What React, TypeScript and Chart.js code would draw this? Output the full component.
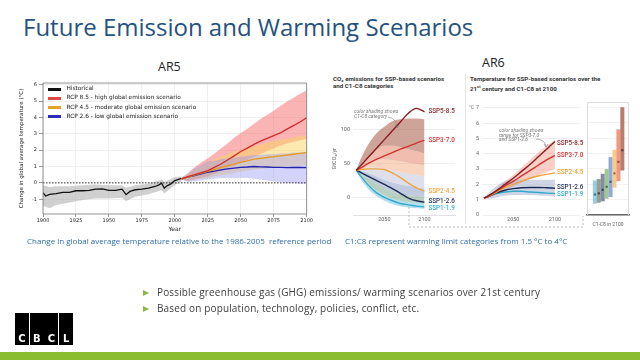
import React, { useEffect, useRef } from "react";
import { Chart, registerables } from "chart.js";
Chart.register(...registerables);

// ---------------- AR5 data ----------------
const AR5_X_TICKS = [1900, 1925, 1950, 1975, 2000, 2025, 2050, 2075, 2100];
const AR5_Y_TICKS = [-1, 0, 1, 2, 3, 4, 5, 6];
const HIST_YEARS = [1900, 1902, 1905, 1910, 1915, 1920, 1925, 1930, 1935, 1940, 1945, 1950, 1955, 1960, 1963, 1966, 1970, 1975, 1980, 1985, 1988, 1990, 1992, 1994, 1997, 2000, 2005];
const HIST_TEMP = [-0.6, -0.8, -0.7, -0.65, -0.58, -0.58, -0.48, -0.48, -0.46, -0.38, -0.36, -0.46, -0.46, -0.38, -0.72, -0.52, -0.42, -0.38, -0.32, -0.22, -0.12, -0.02, -0.32, -0.18, -0.06, 0.14, 0.28];
const HIST_BAND_YEARS = [1900, 1905, 1910, 1920, 1930, 1940, 1950, 1960, 1963, 1970, 1980, 1990, 1992, 2000, 2005];
const HIST_HI = [-0.15, -0.25, -0.2, -0.2, -0.15, -0.1, -0.15, -0.15, -0.3, -0.15, -0.05, 0.2, 0.05, 0.35, 0.4];
const HIST_LO = [-1.4, -1.55, -1.35, -1.2, -1.05, -0.95, -0.95, -0.9, -1.1, -0.85, -0.7, -0.45, -0.65, -0.15, 0.1];
const FUT_YEARS = [2005, 2010, 2015, 2020, 2025, 2030, 2035, 2040, 2045, 2050, 2055, 2060, 2065, 2070, 2075, 2080, 2085, 2090, 2095, 2100];
const RCP85 = [0.25, 0.38, 0.5, 0.62, 0.75, 0.95, 1.15, 1.4, 1.65, 1.92, 2.12, 2.35, 2.55, 2.72, 2.88, 3.05, 3.28, 3.5, 3.72, 3.98];
const RCP85_HI = [0.3, 0.6, 0.95, 1.25, 1.5, 1.8, 2.1, 2.4, 2.75, 3.05, 3.3, 3.6, 3.9, 4.15, 4.4, 4.7, 4.95, 5.2, 5.45, 5.65];
const RCP85_LO = [0.2, 0.1, 0.2, 0.3, 0.4, 0.55, 0.7, 0.9, 1.05, 1.25, 1.4, 1.6, 1.75, 1.95, 2.1, 2.25, 2.4, 2.5, 2.6, 2.7];
const RCP45 = [0.25, 0.35, 0.48, 0.6, 0.7, 0.82, 0.95, 1.05, 1.15, 1.25, 1.35, 1.45, 1.5, 1.55, 1.6, 1.65, 1.7, 1.75, 1.8, 1.85];
const RCP45_HI = [0.3, 0.55, 0.85, 1.05, 1.25, 1.45, 1.6, 1.75, 1.9, 2.0, 2.15, 2.25, 2.35, 2.45, 2.55, 2.65, 2.7, 2.8, 2.85, 2.9];
const RCP45_LO = [0.2, 0.1, 0.2, 0.25, 0.3, 0.4, 0.45, 0.55, 0.6, 0.7, 0.75, 0.8, 0.85, 0.9, 0.95, 1.0, 1.0, 1.05, 1.05, 1.1];
const RCP26 = [0.25, 0.35, 0.45, 0.55, 0.65, 0.72, 0.8, 0.85, 0.9, 0.95, 0.97, 1.0, 0.98, 0.97, 0.95, 0.95, 0.93, 0.94, 0.95, 0.93];
const RCP26_HI = [0.3, 0.55, 0.9, 1.1, 1.3, 1.35, 1.45, 1.5, 1.55, 1.6, 1.65, 1.7, 1.7, 1.75, 1.75, 1.8, 1.8, 1.85, 1.85, 1.9];
const RCP26_LO = [0.2, 0.05, 0.1, 0.15, 0.2, 0.25, 0.3, 0.3, 0.3, 0.3, 0.3, 0.25, 0.2, 0.15, 0.1, 0.05, 0.0, 0.0, -0.05, -0.05];
const ZERO_YEARS = [1900, 2100];
const ZERO_LINE = [0, 0];
const AR5_LEGEND = ["Historical", "RCP 8.5 - high global emission scenario", "RCP 4.5 - moderate global emission scenario", "RCP 2.6 - low global emission scenario"];

// ---------------- AR6 emissions data ----------------
const EM_YEARS = [2015, 2020, 2030, 2040, 2050, 2060, 2070, 2080, 2090, 2100];
const EM_X_TICKS = [2050, 2100];
const EM_Y_TICKS = [0, 50, 100];
const CO2_SSP585 = [40, 46, 59, 72, 85, 98, 111, 124, 131, 126];
const CO2_SSP370 = [40, 43, 50, 56, 61, 66, 71, 75, 80, 84];
const CO2_SSP245 = [40, 41, 42, 42, 41, 36, 29, 21, 14, 9];
const CO2_SSP126 = [40, 37, 31, 25, 19, 13, 6, -1, -5, -7];
const CO2_SSP119 = [40, 32, 18, 7, 0, -5, -9, -11, -13, -14];
const CAT_B0 = [40, 55, 78, 94, 104, 112, 115, 116, 116, 115];
const CAT_B1 = [40, 47, 60, 70, 76, 76, 74, 71, 68, 65];
const CAT_B2 = [40, 44, 50, 55, 56, 55, 53, 51, 49, 47];
const CAT_B3 = [40, 42, 44, 44, 42, 40, 37, 35, 33, 31];
const CAT_B4 = [40, 39, 36, 31, 26, 22, 19, 17, 15, 13];
const CAT_B5 = [40, 36, 28, 20, 13, 8, 5, 3, 2, 1];
const CAT_B6 = [40, 33, 20, 10, 3, -2, -5, -7, -8, -8];
const CAT_B7 = [40, 28, 12, 2, -5, -10, -13, -15, -16, -17];

// ---------------- AR6 temperature data ----------------
const T_YEARS = [2015, 2020, 2030, 2040, 2050, 2060, 2070, 2080, 2090, 2100];
const T_X_TICKS = [2050, 2100];
const T_Y_TICKS = [0, 1, 2, 3, 4, 5, 6, 7];
const T_SSP585 = [1.1, 1.25, 1.6, 2.0, 2.4, 2.85, 3.3, 3.8, 4.3, 4.8];
const T_SSP370 = [1.1, 1.22, 1.55, 1.9, 2.2, 2.55, 2.9, 3.25, 3.6, 3.9];
const T_SSP245 = [1.1, 1.2, 1.5, 1.8, 2.0, 2.2, 2.4, 2.55, 2.65, 2.75];
const T_SSP126 = [1.1, 1.2, 1.45, 1.62, 1.72, 1.78, 1.8, 1.8, 1.78, 1.75];
const T_SSP119 = [1.1, 1.2, 1.4, 1.5, 1.55, 1.55, 1.5, 1.47, 1.43, 1.4];
const T_370_HI = [1.1, 1.3, 1.7, 2.2, 2.6, 3.1, 3.6, 4.1, 4.5, 4.9];
const T_370_LO = [1.1, 1.15, 1.35, 1.6, 1.85, 2.1, 2.35, 2.6, 2.8, 3.0];
const T_126_HI = [1.1, 1.4, 1.9, 2.2, 2.3, 2.3, 2.3, 2.3, 2.3, 2.3];
const T_126_LO = [1.1, 1.05, 1.15, 1.25, 1.3, 1.3, 1.3, 1.28, 1.25, 1.2];

// ---------------- C1-C8 in 2100 ----------------
const C_CATS = ["C1", "C2", "C3", "C4", "C5", "C6", "C7", "C8"];
const C_LO = [0.76, 0.82, 0.91, 1.08, 1.19, 1.8, 2.23, 2.92];
const C_HI = [2.23, 2.32, 2.66, 2.97, 3.75, 4.22, 5.56, 7.0];
const C_MED = [1.34, 1.41, 1.64, 1.84, 2.16, 2.71, 3.46, 4.22];

const SSP_NAMES = ["SSP5-8.5", "SSP3-7.0", "SSP2-4.5", "SSP1-2.6", "SSP1-1.9"];
const SSP_COLORS = ["#8b1c1f", "#cf3530", "#f0a33c", "#1d2c56", "#33a9cc"];
const C_COLORS = ["rgba(140,200,228,0.9)", "rgba(128,146,116,0.85)", "rgba(112,116,160,0.85)", "rgba(150,196,128,0.9)", "rgba(132,162,212,0.9)", "rgba(246,196,130,0.9)", "rgba(240,142,112,0.9)", "rgba(178,110,94,0.9)"];
const C_MED_COLORS = ["#3a6f88", "#3e4a36", "#3a3d66", "#4d6e40", "#3c5580", "#9a6a30", "#9a4a30", "#6b3528"];

// ---------------- helpers ----------------
const xy = (xs: number[], ys: number[]) => xs.map((x, i) => ({ x, y: ys[i] }));
const setTicks = (vals: number[]) => (s: any) => {
  s.ticks = vals.map((v) => ({ value: v }));
};
const fixW = (w: number) => (s: any) => {
  s.width = w;
};
const fixH = (h: number) => (s: any) => {
  s.height = h;
};
const band = (data: any, target: any, color: string, order: number, smooth = false) => ({
  data,
  fill: target === false ? false : target,
  backgroundColor: color,
  borderWidth: 0,
  borderColor: "transparent",
  pointRadius: 0,
  order,
  cubicInterpolationMode: smooth ? "monotone" : "default",
});
const line = (data: any, color: string, width: number, order: number, extra: any = {}) => ({
  data,
  borderColor: color,
  backgroundColor: color,
  borderWidth: width,
  pointRadius: 0,
  fill: false,
  order,
  ...extra,
});

const framePlugin = {
  id: "frame",
  afterDatasetsDraw(chart: any, _a: any, opts: any) {
    if (!opts || !opts.color) return;
    const { left, top, right, bottom } = chart.chartArea;
    const ctx = chart.ctx;
    ctx.save();
    ctx.strokeStyle = opts.color;
    ctx.lineWidth = opts.width || 1;
    const t = top - (opts.topPad || 0);
    ctx.beginPath();
    if (opts.open) {
      ctx.moveTo(left + 0.5, bottom);
      ctx.lineTo(left + 0.5, t + 0.5);
      ctx.lineTo(right - 0.5, t + 0.5);
      ctx.lineTo(right - 0.5, bottom);
    } else {
      ctx.rect(left, t, right - left, bottom - t);
    }
    ctx.stroke();
    ctx.restore();
  },
};

const endLabelPlugin = {
  id: "endLabels",
  afterDatasetsDraw(chart: any, _a: any, opts: any) {
    if (!opts || !opts.font) return;
    const ctx = chart.ctx;
    chart.data.datasets.forEach((ds: any, i: number) => {
      if (!ds.endLabel) return;
      const meta = chart.getDatasetMeta(i);
      const pt = meta.data[meta.data.length - 1];
      ctx.save();
      ctx.font = opts.font;
      ctx.fillStyle = ds.borderColor;
      ctx.textBaseline = "middle";
      ctx.fillText(ds.endLabel, pt.x + opts.dx, pt.y + (ds.labelDy || 0));
      ctx.restore();
    });
  },
};

const baseOpts = {
  responsive: false,
  animation: false as const,
  events: [] as any[],
  elements: { point: { radius: 0 } },
};

// ---------------- chart configs ----------------
function ar5Config() {
  const dj = "'DejaVu Sans', sans-serif";
  const datasets = [
    band(xy(FUT_YEARS, RCP85_HI), 1, "rgba(246,118,118,0.55)", 10),
    band(xy(FUT_YEARS, RCP85_LO), false, "transparent", 10),
    band(xy(FUT_YEARS, RCP45_HI), 3, "rgba(252,214,100,0.5)", 9),
    band(xy(FUT_YEARS, RCP45_LO), false, "transparent", 9),
    band(xy(FUT_YEARS, RCP26_HI), 5, "rgba(150,150,245,0.42)", 8),
    band(xy(FUT_YEARS, RCP26_LO), false, "transparent", 8),
    band(xy(HIST_BAND_YEARS, HIST_HI), 7, "rgba(170,170,170,0.55)", 11),
    band(xy(HIST_BAND_YEARS, HIST_LO), false, "transparent", 11),
    line(xy(ZERO_YEARS, ZERO_LINE), "#222", 0.9, 1, { borderDash: [1.5, 1.5] }),
    line(xy(FUT_YEARS, RCP85), "#d42a2a", 1.3, 0),
    line(xy(FUT_YEARS, RCP45), "#e59a1c", 1.3, 0),
    line(xy(FUT_YEARS, RCP26), "#2222b0", 1.3, 0),
    line(xy(HIST_YEARS, HIST_TEMP), "#111", 1.3, 0),
  ];
  return {
    type: "line",
    data: { datasets },
    options: {
      ...baseOpts,
      layout: { padding: { top: 3, right: 3, left: 0, bottom: 0 } },
      plugins: { legend: { display: false }, tooltip: { enabled: false }, frame: { color: "#7a7a7a", width: 0.8 } },
      scales: {
        x: {
          type: "linear",
          min: 1900,
          max: 2100,
          afterBuildTicks: setTicks(AR5_X_TICKS),
          afterFit: fixH(20),
          ticks: { font: { family: dj, size: 5 }, color: "#222", padding: 1, maxRotation: 0, autoSkip: false, callback: (v: any) => String(v) },
          grid: { color: "#e4e4e4", lineWidth: 0.6, tickLength: 3, tickColor: "#555" },
          border: { display: false },
          title: { display: true, text: "Year", font: { family: dj, size: 6 }, color: "#222", padding: { top: 0, bottom: 1 } },
        },
        y: {
          type: "linear",
          min: -1.9,
          max: 6.1,
          afterBuildTicks: setTicks(AR5_Y_TICKS),
          afterFit: fixW(27),
          ticks: { font: { family: dj, size: 5 }, color: "#222", padding: 2, autoSkip: false, callback: (v: any) => String(v) },
          grid: { color: "#e4e4e4", lineWidth: 0.6, tickLength: 4, tickColor: "#555" },
          border: { display: false },
          title: { display: true, text: "Change in global average temperature (°C)", font: { family: dj, size: 5.5 }, color: "#222", padding: { top: 2, bottom: 0 } },
        },
      },
    },
    plugins: [framePlugin],
  };
}

function emissionConfig() {
  const f = "Roboto, 'Open Sans', sans-serif";
  const s = true;
  const series = [CO2_SSP585, CO2_SSP370, CO2_SSP245, CO2_SSP126, CO2_SSP119];
  const dys = [0, 0, 0, -1, 2];
  const datasets: any[] = [
    band(xy(EM_YEARS, CAT_B0), 1, "rgba(176,108,90,0.62)", 10, s),
    band(xy(EM_YEARS, CAT_B1), 2, "rgba(228,134,110,0.55)", 10, s),
    band(xy(EM_YEARS, CAT_B2), 3, "rgba(244,172,128,0.5)", 10, s),
    band(xy(EM_YEARS, CAT_B3), 4, "rgba(196,196,220,0.55)", 10, s),
    band(xy(EM_YEARS, CAT_B4), 5, "rgba(140,160,198,0.55)", 10, s),
    band(xy(EM_YEARS, CAT_B5), 6, "rgba(128,170,140,0.55)", 10, s),
    band(xy(EM_YEARS, CAT_B6), 7, "rgba(128,204,230,0.6)", 10, s),
    band(xy(EM_YEARS, CAT_B7), false, "transparent", 10, s),
  ];
  series.forEach((vals, i) =>
    datasets.push(line(xy(EM_YEARS, vals), SSP_COLORS[i], 1.4, 0, { cubicInterpolationMode: "monotone", endLabel: SSP_NAMES[i], labelDy: dys[i] }))
  );
  return {
    type: "line",
    data: { datasets },
    options: {
      ...baseOpts,
      layout: { padding: { top: 4, right: 7, left: 0, bottom: 0 } },
      plugins: { legend: { display: false }, tooltip: { enabled: false }, endLabels: { font: `500 6.3px ${f}`, dx: 4 } },
      scales: {
        x: {
          type: "linear",
          min: 2011,
          max: 2138,
          afterBuildTicks: setTicks(EM_X_TICKS),
          afterFit: fixH(14),
          ticks: { font: { family: f, size: 5.5 }, color: "#666", padding: 1, maxRotation: 0, callback: (v: any) => String(v) },
          grid: { display: false, drawTicks: false },
          border: { display: true, color: "#e2e2e2" },
        },
        y: {
          type: "linear",
          min: -26,
          max: 140,
          afterBuildTicks: setTicks(EM_Y_TICKS),
          afterFit: fixW(23),
          ticks: { font: { family: f, size: 5.5 }, color: "#666", padding: 3, callback: (v: any) => String(v) },
          grid: { color: "#e6e6e6", lineWidth: 0.7, drawTicks: false },
          border: { display: false },
          title: { display: true, text: "GtCO₂/yr", font: { family: f, size: 5.5 }, color: "#555", padding: { top: 1, bottom: 0 } },
        },
      },
    },
    plugins: [endLabelPlugin],
  };
}

function tempConfig() {
  const f = "Roboto, 'Open Sans', sans-serif";
  const series = [T_SSP585, T_SSP370, T_SSP245, T_SSP126, T_SSP119];
  const dys = [2, 0, 0, -1, 1];
  const datasets: any[] = [
    band(xy(T_YEARS, T_370_HI), 1, "rgba(242,140,118,0.42)", 10, true),
    band(xy(T_YEARS, T_370_LO), false, "transparent", 10, true),
    band(xy(T_YEARS, T_126_HI), 3, "rgba(160,172,204,0.5)", 9, true),
    band(xy(T_YEARS, T_126_LO), false, "transparent", 9, true),
  ];
  series.forEach((vals, i) =>
    datasets.push(line(xy(T_YEARS, vals), SSP_COLORS[i], 1.4, 0, { cubicInterpolationMode: "monotone", endLabel: SSP_NAMES[i], labelDy: dys[i] }))
  );
  return {
    type: "line",
    data: { datasets },
    options: {
      ...baseOpts,
      layout: { padding: { top: 6, right: 4, left: 0, bottom: 0 } },
      plugins: { legend: { display: false }, tooltip: { enabled: false }, endLabels: { font: `500 6.3px ${f}`, dx: 2 } },
      scales: {
        x: {
          type: "linear",
          min: 2012.6,
          max: 2130,
          afterBuildTicks: setTicks(T_X_TICKS),
          afterFit: fixH(13),
          ticks: { font: { family: f, size: 5.5 }, color: "#666", padding: 1, maxRotation: 0, callback: (v: any) => String(v) },
          grid: { display: false, drawTicks: false },
          border: { display: false },
        },
        y: {
          type: "linear",
          min: 0,
          max: 7.1,
          afterBuildTicks: setTicks(T_Y_TICKS),
          afterFit: fixW(16),
          ticks: { font: { family: f, size: 5.5 }, color: "#666", padding: 3, callback: (v: any) => String(v) },
          grid: { color: "#e8e8e8", lineWidth: 0.7, drawTicks: false },
          border: { display: false },
        },
      },
    },
    plugins: [endLabelPlugin],
  };
}

function catConfig() {
  const f = "Roboto, 'Open Sans', sans-serif";
  const pos = C_CATS.map((_, i) => i + 1);
  return {
    type: "bar",
    data: {
      datasets: [
        {
          type: "line",
          data: xy(pos, C_MED),
          showLine: false,
          pointStyle: "rect",
          pointRadius: 1.5,
          pointBackgroundColor: C_MED_COLORS,
          pointBorderWidth: 0,
          order: 0,
        },
        {
          type: "bar",
          data: pos.map((x, i) => ({ x, y: [C_LO[i], C_HI[i]] })),
          backgroundColor: C_COLORS,
          borderWidth: 0,
          barThickness: 3.4,
          grouped: false,
          order: 1,
        },
      ],
    },
    options: {
      ...baseOpts,
      layout: { padding: { top: 6, right: 4, left: 0, bottom: 0 } },
      plugins: { legend: { display: false }, tooltip: { enabled: false }, frame: { color: "#dcdcdc", width: 1, open: true, topPad: 4 } },
      scales: {
        x: {
          type: "linear",
          offset: false,
          min: -1,
          max: 9.7,
          afterFit: fixH(13),
          ticks: { display: false },
          grid: { display: false, drawTicks: false, offset: false },
          border: { display: true, color: "#666", width: 1.6 },
          title: { display: true, text: "C1-C8 in 2100", font: { family: f, size: 5 }, color: "#666", padding: { top: 3, bottom: 0 } },
        },
        y: {
          type: "linear",
          min: 0,
          max: 7.1,
          afterBuildTicks: setTicks(T_Y_TICKS),
          afterFit: fixW(3),
          ticks: { display: false },
          grid: { color: "#ececec", lineWidth: 0.7, drawTicks: false },
          border: { display: false },
        },
      },
    },
    plugins: [framePlugin],
  };
}

// ---------------- components ----------------
function ChartCanvas({ left, top, width, height, make }: any) {
  const ref = useRef<HTMLCanvasElement | null>(null);
  useEffect(() => {
    const chart = new Chart(ref.current as HTMLCanvasElement, make());
    return () => chart.destroy();
  }, []);
  return <canvas ref={ref} width={width} height={height} style={{ position: "absolute", left, top, width, height }} />;
}

const abs = (left: number, top: number, extra: any = {}) => ({ position: "absolute" as const, left, top, whiteSpace: "nowrap" as const, ...extra });

export default function App() {
  const legendColors = ["#111", "#e04848", "#e8a02a", "#2a2ac0"];
  const legendY = [89, 98.3, 107.5, 116.7];
  const roboto = "Roboto, 'Open Sans', sans-serif";
  return (
    <div style={{ position: "absolute", left: 0, top: 0, width: 640, height: 360, background: "#fff", overflow: "hidden", fontFamily: "'Open Sans', sans-serif" }}>
      <div style={abs(23, 11.5, { fontSize: 24, lineHeight: "30px", color: "#25527e" })}>Future Emission and Warming Scenarios</div>

      <div style={abs(158, 60, { fontSize: 12.5, lineHeight: "14px", color: "#222" })}>AR5</div>
      <div style={abs(482, 56, { fontSize: 12.5, lineHeight: "14px", color: "#222" })}>AR6</div>

      <ChartCanvas left={16} top={78} width={298} height={156} make={ar5Config} />
      {AR5_LEGEND.map((t, i) => (
        <React.Fragment key={t}>
          <div style={abs(48, legendY[i] - 1.5, { width: 12.5, height: 3, background: legendColors[i] })} />
          <div style={abs(66.5, legendY[i] - 4, { fontFamily: "'DejaVu Sans', sans-serif", fontSize: 5.8, lineHeight: "7px", color: "#222" })}>{t}</div>
        </React.Fragment>
      ))}

      <div style={abs(333, 75.5, { fontFamily: roboto, fontWeight: 700, fontSize: 6.2, lineHeight: "7.3px", color: "#333" })}>
        CO₂ emissions for SSP-based scenarios
        <br />
        and C1-C8 categories
      </div>
      <div style={abs(470, 75.5, { fontFamily: roboto, fontWeight: 700, fontSize: 6.2, lineHeight: "7px", color: "#333" })}>
        Temperature for SSP-based scenarios over the
        <br />
        21<sup style={{ fontSize: 4 }}>st</sup> century and C1-C8 at 2100
      </div>

      <div style={abs(465, 74, { width: 1, height: 150, background: "#e6e6e6" })} />

      <ChartCanvas left={330} top={96} width={132} height={133} make={emissionConfig} />
      <ChartCanvas left={466} top={100} width={118} height={128} make={tempConfig} />
      <ChartCanvas left={583} top={100} width={50} height={128} make={catConfig} />

      <div style={abs(469, 104, { fontFamily: roboto, fontSize: 5, lineHeight: "6px", color: "#777" })}>°C</div>

      <div style={abs(354, 108.5, { fontFamily: roboto, fontStyle: "italic", fontSize: 5, lineHeight: "5.4px", color: "#777" })}>
        color shading shows
        <br />
        C1-C8 category
      </div>
      <div style={abs(499, 128, { fontFamily: roboto, fontStyle: "italic", fontSize: 5, lineHeight: "4.6px", color: "#777" })}>
        color shading shows
        <br />
        range for SSP3-7.0
        <br />
        and SSP1-2.6
      </div>
      <svg width={640} height={360} style={{ position: "absolute", left: 0, top: 0, pointerEvents: "none" }}>
        <path d="M 388 117 Q 396 118 397 127" stroke="#777" strokeWidth={0.6} fill="none" />
        <path d="M 395 125 L 397 128 L 399 125" stroke="#777" strokeWidth={0.6} fill="none" />
        <path d="M 536 139 Q 544 139 546 146" stroke="#777" strokeWidth={0.6} fill="none" />
        <path d="M 544 144 L 546 147 L 548 144" stroke="#777" strokeWidth={0.6} fill="none" />
        <path d="M 409 207 L 409 227 L 583 227 L 583 216" stroke="#aaa" strokeWidth={0.8} strokeDasharray="2 2" fill="none" />
      </svg>

      <div style={abs(27, 236, { fontSize: 8, lineHeight: "10px", color: "#2f6eaa" })}>
        Change in global average temperature relative to the 1986-2005&nbsp; reference period
      </div>
      <div style={abs(345, 236, { fontSize: 8, lineHeight: "10px", color: "#2f6eaa" })}>
        C1:C8 represent warming limit categories from 1.5 °C to 4°C
      </div>

      {["Possible greenhouse gas (GHG) emissions/ warming scenarios over 21st century", "Based on population, technology, policies, conflict, etc."].map((t, i) => (
        <React.Fragment key={t}>
          <div style={abs(143, 289.5 + i * 16, { width: 0, height: 0, borderLeft: "6px solid #8ab83a", borderTop: "3.5px solid transparent", borderBottom: "3.5px solid transparent" })} />
          <div style={abs(157, 286 + i * 16, { fontSize: 10, lineHeight: "12px", color: "#404040", letterSpacing: 0.15 })}>{t}</div>
        </React.Fragment>
      ))}

      <div style={abs(15, 313, { display: "flex", gap: 0.7 })}>
        {["C", "B", "C", "L"].map((c, i) => (
          <div key={i} style={{ width: 14, height: 32, background: "#000", color: "#fff", fontFamily: "'DejaVu Sans', sans-serif", fontWeight: 700, fontSize: 10, display: "flex", alignItems: "flex-end", justifyContent: "center", lineHeight: "12px" }}>
            {c}
          </div>
        ))}
      </div>

      <div style={abs(0, 352, { width: 640, height: 8, background: "#8bbd31" })} />
    </div>
  );
}
